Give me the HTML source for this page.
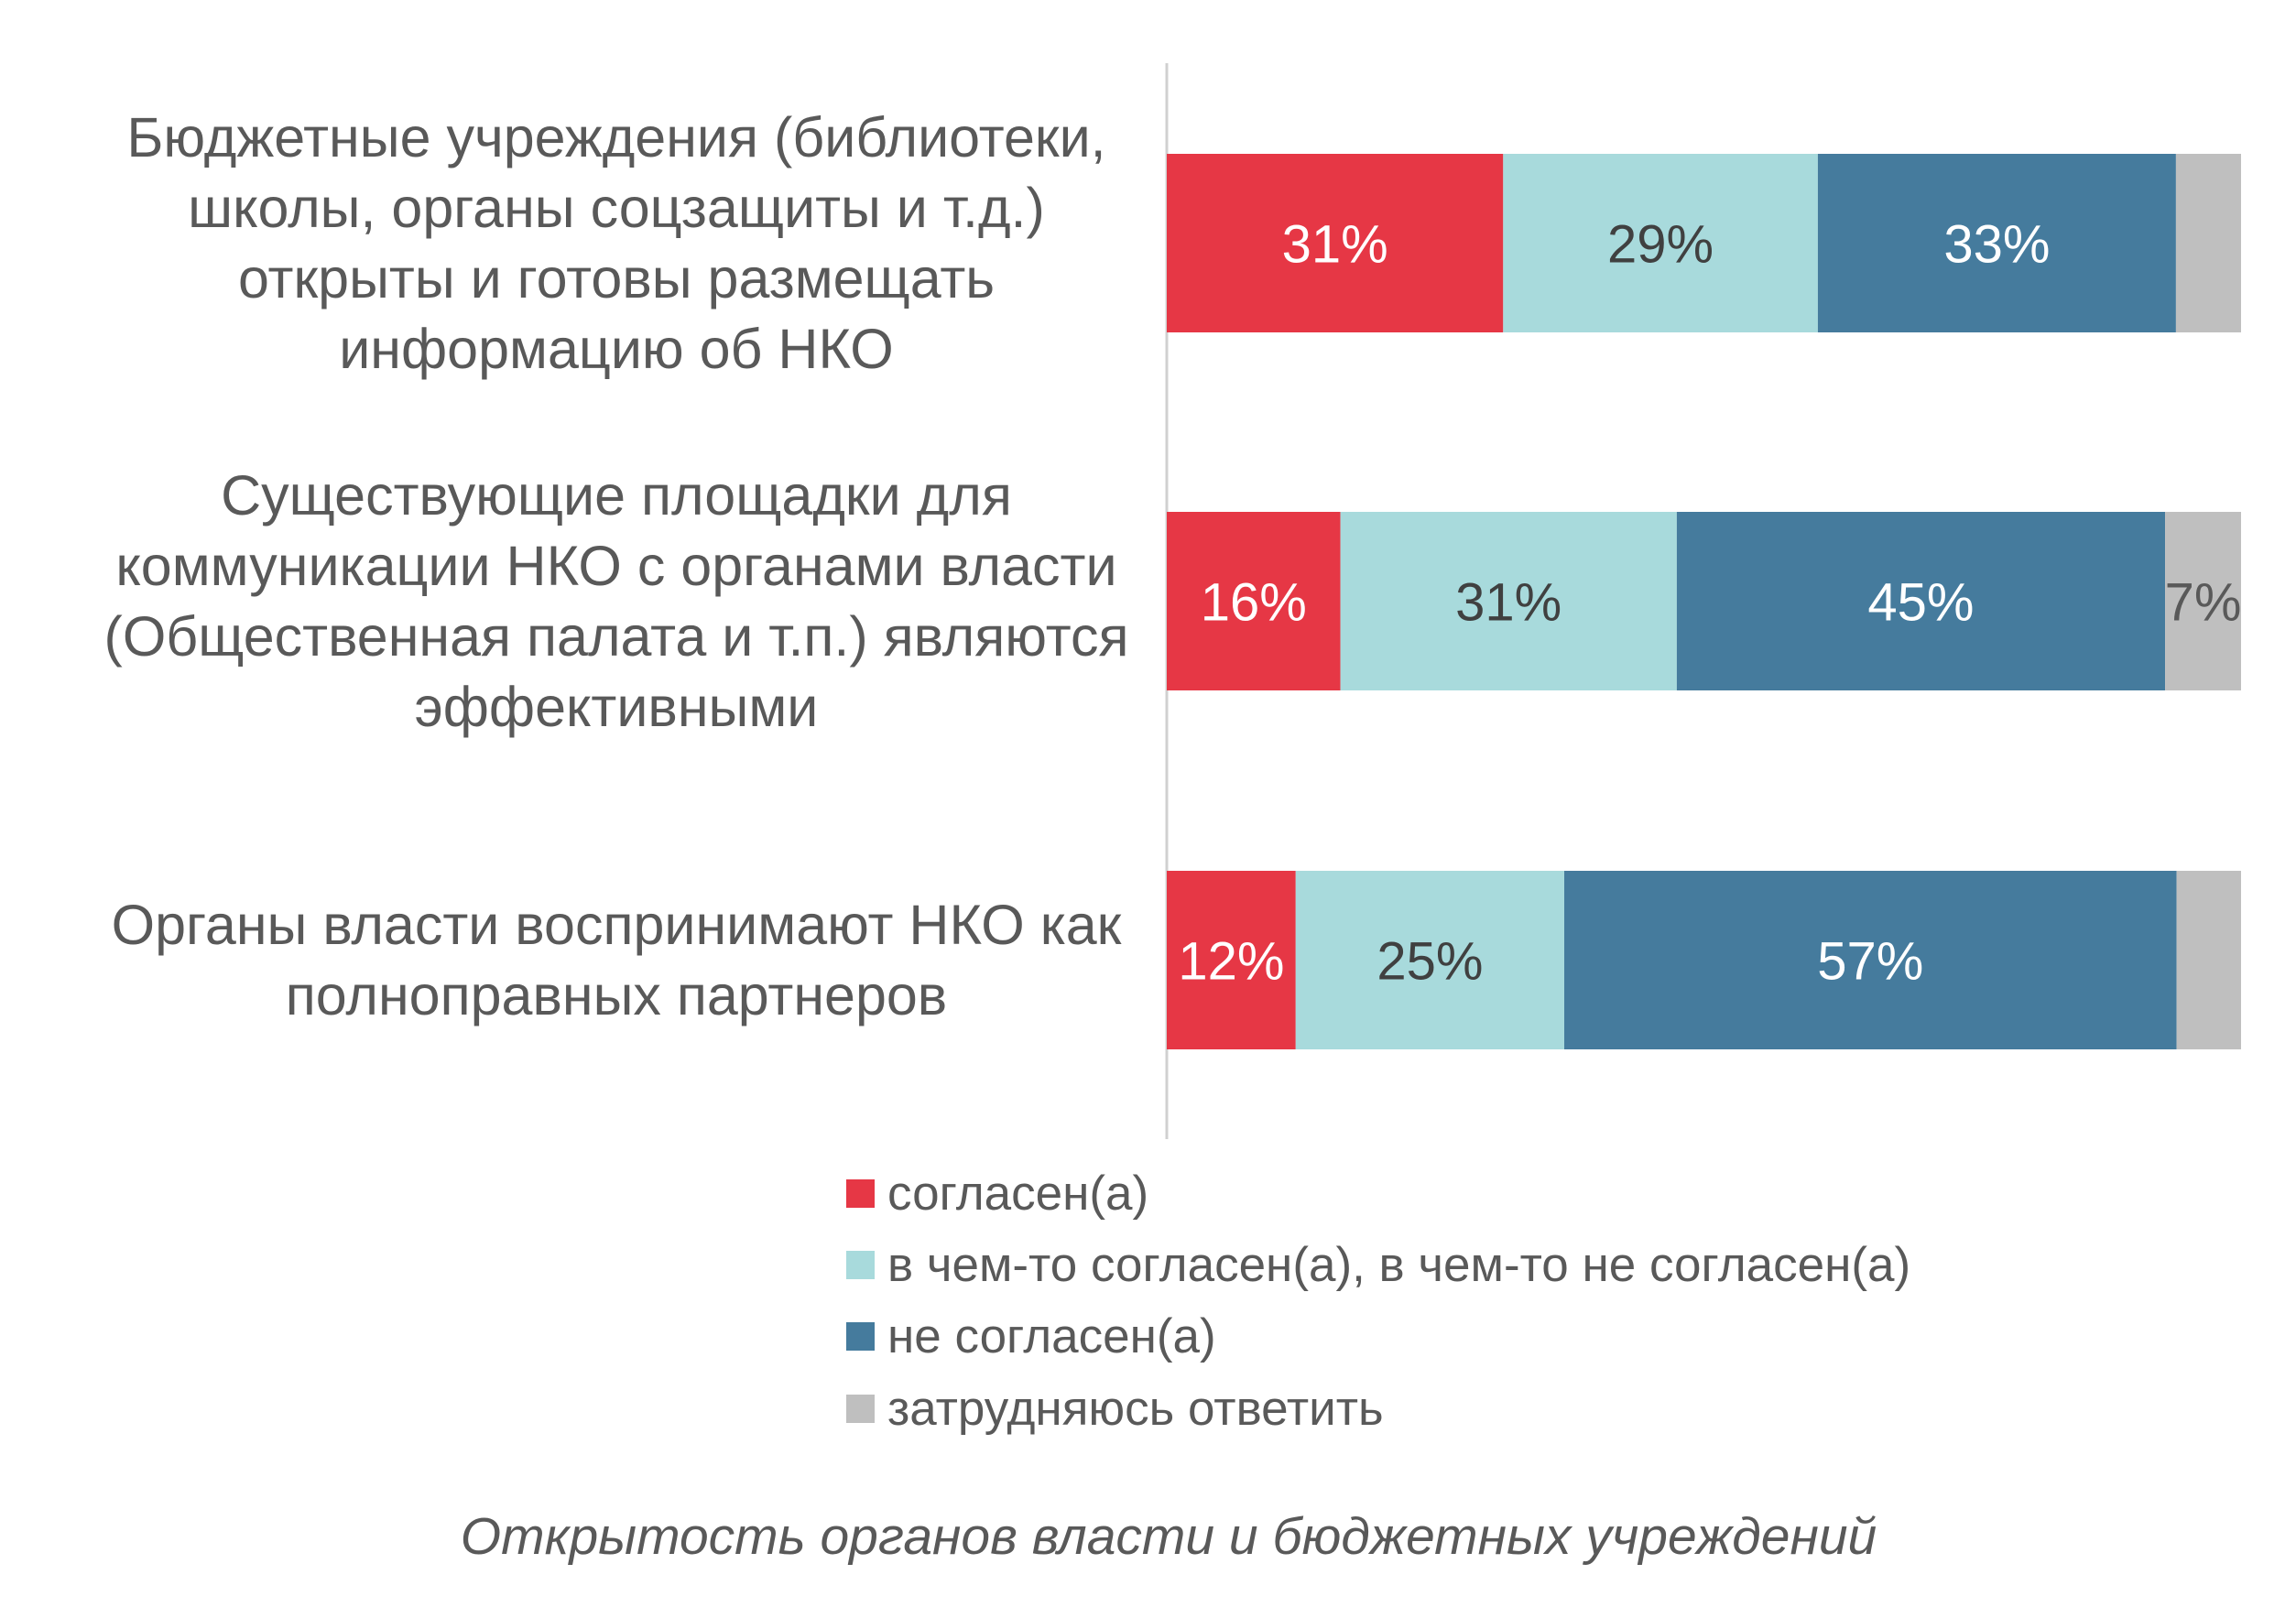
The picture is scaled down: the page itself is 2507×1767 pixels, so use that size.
<!DOCTYPE html>
<html><head><meta charset="utf-8"><style>
html,body{margin:0;padding:0;background:#fff;}
svg{display:block;font-family:"Liberation Sans","DejaVu Sans",sans-serif;}
</style></head><body>
<svg id="chart" width="2507" height="1767" viewBox="0 0 2507 1767" xmlns="http://www.w3.org/2000/svg">
<rect width="2507" height="1767" fill="#fff"/>
<line x1="1274" y1="69" x2="1274" y2="1244" stroke="#d0d0d0" stroke-width="3"/>
<g id="bars"></g>
<g id="catlabels" fill="#595959" font-size="61" text-anchor="middle"></g>
<g id="legend" fill="#595959" font-size="53"></g>
<text x="1276" y="1697" text-anchor="middle" font-size="57" font-style="italic" fill="#595959">Открытость органов власти и бюджетных учреждений</text>
</svg>
<script>
const categories = [
 ["Бюджетные учреждения (библиотеки,","школы, органы соцзащиты и т.д.)","открыты и готовы размещать","информацию об НКО"],
 ["Существующие площадки для","коммуникации НКО с органами власти","(Общественная палата и т.п.) являются","эффективными"],
 ["Органы власти воспринимают НКО как","полноправных партнеров"]
];
const seriesNames = ["согласен(а)","в чем-то согласен(а), в чем-то не согласен(а)","не согласен(а)","затрудняюсь ответить"];
const agree = [31,16,12];
const partly = [29,31,25];
const disagree = [33,45,57];
const unsure = [6,7,6];
const showUnsureLabel = [false,true,false];
const colors = ["#e63745","#a8dadc","#457b9d","#bfbfbf"];
const textColors = ["#ffffff","#404040","#ffffff","#595959"];
const NS="http://www.w3.org/2000/svg";
const x0=1274, x1=2447, barTops=[168,559,951], barH=195;
const bars=document.getElementById('bars');
const xScale=(v,total)=>x0+(v/total)*(x1-x0);
for(let i=0;i<3;i++){
  const vals=[agree[i],partly[i],disagree[i],unsure[i]];
  const total=vals.reduce((a,b)=>a+b,0);
  let cum=0;
  vals.forEach((v,s)=>{
    const xa=xScale(cum,total), xb=xScale(cum+v,total);
    const r=document.createElementNS(NS,'rect');
    r.setAttribute('x',xa);r.setAttribute('y',barTops[i]);
    r.setAttribute('width',xb-xa);r.setAttribute('height',barH);
    r.setAttribute('fill',colors[s]);
    
    
    bars.appendChild(r);
    if(s<3||showUnsureLabel[i]){
      const t=document.createElementNS(NS,'text');
      t.setAttribute('x',(xa+xb)/2);t.setAttribute('y',barTops[i]+barH/2+21);
      t.setAttribute('text-anchor','middle');t.setAttribute('font-size','58');
      t.setAttribute('fill',textColors[s]);
      t.textContent=v+'%';
      
      
      bars.appendChild(t);
    }
    cum+=v;
  });
}
const cl=document.getElementById('catlabels');
categories.forEach((lines,i)=>{
  const center=barTops[i]+barH/2;
  const lh=77;
  const start=center-(lines.length-1)*lh/2;
  lines.forEach((ln,j)=>{
    const t=document.createElementNS(NS,'text');
    t.setAttribute('x',673);t.setAttribute('y',start+j*lh+21);
    t.textContent=ln;
    
    
    cl.appendChild(t);
  });
});
const lg=document.getElementById('legend');
const legY=[1303,1381,1459,1538];
seriesNames.forEach((n,i)=>{
  const r=document.createElementNS(NS,'rect');
  r.setAttribute('x',924);r.setAttribute('y',legY[i]-15);r.setAttribute('width',31);r.setAttribute('height',31);
  r.setAttribute('fill',colors[i]);
  
  
  lg.appendChild(r);
  const t=document.createElementNS(NS,'text');
  t.setAttribute('x',969);t.setAttribute('y',legY[i]+18);
  t.textContent=n;
  
  
  lg.appendChild(t);
});
</script>
</body></html>
